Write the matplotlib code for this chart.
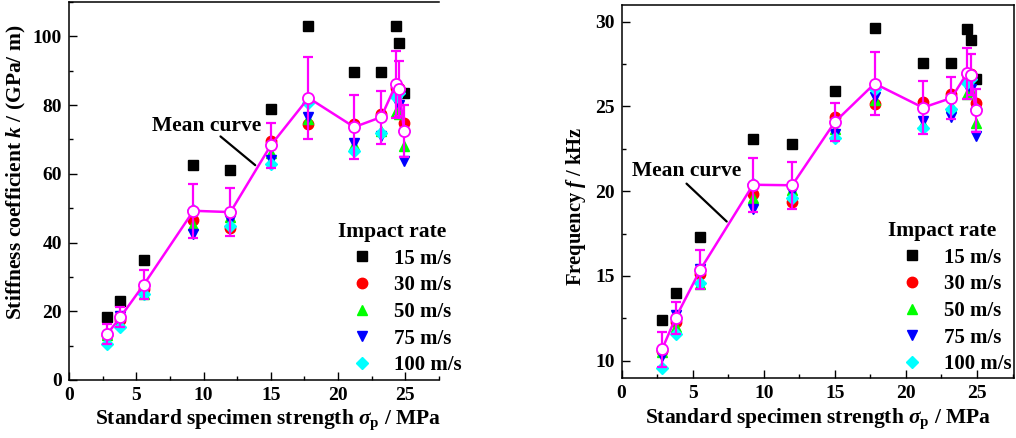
import numpy as np
import matplotlib
matplotlib.use('Agg')
import matplotlib.pyplot as plt

plt.rcParams['font.family'] = ['Liberation Serif', 'DejaVu Serif']
plt.rcParams['font.weight'] = 'bold'
plt.rcParams['mathtext.fontset'] = 'custom'
plt.rcParams['mathtext.rm'] = 'Liberation Serif:bold'
plt.rcParams['mathtext.it'] = 'Liberation Serif:bold:italic'
plt.rcParams['mathtext.bf'] = 'Liberation Serif:bold'

# ── data ──
strength = [2.85, 3.8, 5.55, 9.25, 12.0, 15.0, 17.8, 21.2, 23.2, 24.3, 24.55, 24.9]
rates = ['15 m/s', '30 m/s', '50 m/s', '75 m/s', '100 m/s']

k15 = [18.2, 23.0, 35.0, 62.7, 61.2, 79.0, 103.0, 89.5, 89.5, 103.0, 98.0, 83.5]
k30 = [13.0, 17.5, 26.5, 46.5, 44.3, 69.5, 74.5, 74.5, 77.5, 85.0, 85.0, 74.8]
k50 = [13.0, 16.5, 25.0, 45.0, 47.5, 66.0, 76.0, 68.5, 72.5, 78.0, 77.5, 68.0]
k75 = [12.5, 18.5, 27.0, 42.5, 46.5, 64.0, 76.5, 69.0, 71.0, 81.5, 80.0, 63.7]
k100 = [10.5, 15.5, 25.0, 49.5, 44.8, 63.0, 80.5, 66.5, 72.0, 82.5, 83.5, 72.5]

f15 = [12.4, 14.0, 17.3, 23.1, 22.8, 25.9, 29.6, 27.55, 27.55, 29.55, 28.9, 26.6]
f30 = [10.6, 12.3, 15.1, 19.85, 19.35, 24.35, 25.15, 25.25, 25.75, 26.9, 26.9, 25.2]
f50 = [10.5, 12.0, 14.5, 19.6, 20.05, 23.65, 25.4, 23.95, 25.0, 25.75, 25.9, 24.0]
f75 = [10.3, 12.7, 15.4, 18.95, 19.95, 23.35, 25.55, 24.15, 24.35, 26.2, 26.0, 23.25]
f100 = [9.55, 11.6, 14.6, 20.4, 19.6, 23.15, 26.05, 23.75, 24.85, 26.4, 26.6, 24.85]

styles = [('s', '#000000'), ('o', '#ff0000'), ('^', '#00ff00'), ('v', '#0000ff'), ('D', '#00ffff')]
sizes = [7, 7.5, 7.5, 7.5, 6]
MAG = '#ff00ff'


def draw_panel(ax, series, ylim, ymaj, ymin_, xlim, ylabel, ylab_fs, txt_pos, arrow, leg_anchor):
    for vals, (m, c), ms, lab in zip(series, styles, sizes, rates):
        ax.plot(strength, vals, ls='none', marker=m, color=c, ms=ms,
                mec=c, label=lab, zorder=2)
    arr = np.array(series)
    mean = arr.mean(axis=0)
    sd = arr.std(axis=0, ddof=1)
    ax.errorbar(strength, mean, yerr=sd, fmt='none', ecolor=MAG, elinewidth=1.6,
                capsize=3.5, capthick=1.6, zorder=3)
    ax.plot(strength, mean, '-', color=MAG, lw=1.8, marker='o', ms=8,
            mfc='white', mec=MAG, mew=1.3, zorder=4)
    ax.set_xlim(*xlim)
    ax.set_ylim(*ylim)
    ax.set_xticks(np.arange(0, 26, 5))
    ax.set_xticks(np.arange(0, 27.6, 2.5), minor=True)
    ax.set_yticks(np.arange(ymaj[0], ymaj[1] + 0.01, ymaj[2]))
    ax.set_yticks(np.arange(ymin_[0], ymin_[1] + 0.01, ymin_[2]), minor=True)
    ax.tick_params(which='both', direction='in', top=False, right=False,
                   labelsize=14, width=1)
    ax.tick_params(which='major', length=5.5, pad=5)
    ax.tick_params(which='minor', length=3)
    for s in ax.spines.values():
        s.set_linewidth(1.1)
    ax.set_xlabel(r'Standard specimen strength $\mathit{\sigma}_\mathrm{p}$ / MPa',
                  fontsize=15.5, fontweight='bold')
    ax.set_ylabel(ylabel, fontsize=ylab_fs, fontweight='bold')
    ax.text(txt_pos[0], txt_pos[1], 'Mean curve', fontsize=15.5, fontweight='bold',
            va='center', ha='left')
    ax.annotate('', xy=arrow[1], xytext=arrow[0],
                arrowprops=dict(arrowstyle='-', color='black', lw=1.6))
    leg = ax.legend(loc='upper left', bbox_to_anchor=leg_anchor, frameon=False,
                    title='Impact rate', fontsize=15, title_fontsize=15.5,
                    handlelength=2.3, handletextpad=0.4, labelspacing=0.32,
                    borderpad=0, borderaxespad=0)
    leg._legend_box.align = 'left'
    leg.get_title().set_fontweight('bold')
    return leg


fig = plt.figure(figsize=(10.16, 4.38), dpi=100)
ax1 = fig.add_axes([69 / 1016, 1 - 380 / 438, 370 / 1016, 378 / 438])
ax2 = fig.add_axes([621.5 / 1016, 1 - 377.7 / 438, 392.5 / 1016, 373 / 438])

draw_panel(ax1, [k15, k30, k50, k75, k100], (0, 110), (0, 100, 20), (0, 110, 10),
           (0, 25.35), r'Stiffness coefficient $\mathit{k}$ / (GPa/ m)', 15.5,
           (6.2, 73.8), ((11.1, 71.4), (14.0, 62.0)), (0.727, 0.418))
ax1.spines['right'].set_visible(False)
ax1.xaxis.set_label_coords(0.538, -0.072)
ax1.yaxis.set_label_coords(-0.11, 0.55)

draw_panel(ax2, [f15, f30, f50, f75, f100], (9, 31), (10, 30, 5), (10, 30, 2.5),
           (0, 27.6), r'Frequency $\mathit{f}$ / kHz', 14.8,
           (0.75, 21.2), ((4.43, 20.56), (7.54, 18.1)), (0.679, 0.42))
ax2.xaxis.set_label_coords(0.5, -0.076)
ax2.yaxis.set_label_coords(-0.085, 0.46)

fig.savefig('out.png', dpi=100)
